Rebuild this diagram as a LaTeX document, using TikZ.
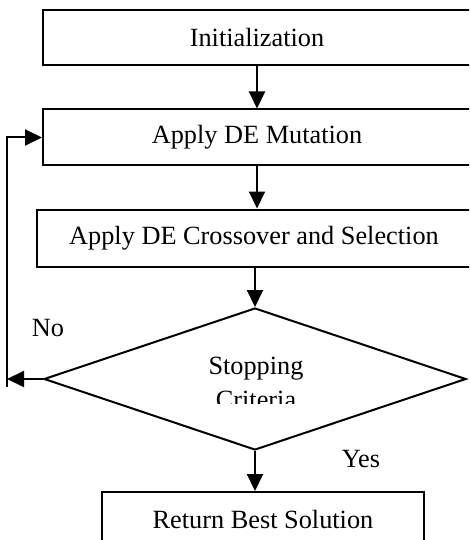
\documentclass[tikz,border=0pt]{standalone}
\usepackage{fontspec}
\setmainfont{Liberation Serif}
\usepackage{tikz}
\usetikzlibrary{arrows.meta,positioning,shapes.geometric}
\tikzset{
  stepbox/.style={draw=black,line width=2pt,minimum width=428pt,
    minimum height=55pt,inner sep=0pt,font=\fontsize{26.3}{34}\selectfont},
  flow/.style={line width=2pt,-{Triangle[length=17pt,width=16pt]}},
  tag/.style={font=\fontsize{26.3}{34}\selectfont,inner sep=0pt},
}
\begin{document}
\begin{tikzpicture}[x=1pt,y=-1pt]
\clip (0,0) rectangle (469,540);
\fill[white] (0,0) rectangle (469,540);

\node[stepbox] (init) at (257,38) {Initialization};
\node[stepbox,below=42pt of init,minimum height=56pt] (mut) {Apply DE Mutation};
\node[stepbox,below=42pt of mut,xshift=-3pt,minimum width=434pt,minimum height=57pt] (cross)
  {Apply DE Crossover and Selection};
\node[draw=black,line width=2pt,diamond,minimum width=422pt,minimum height=142pt,
      inner sep=0pt] (stop) at (255,379) {};
\node[stepbox,minimum width=322pt,minimum height=66pt] (ret) at (263,525)
  {\raisebox{12pt}{Return Best Solution}};

% text inside the decision is cut off
\begin{scope}
  \clip (0,0) rectangle (469,403);
  \node[tag,align=center] (stoptxt) at (256,383) {Stopping\\Criteria};
\end{scope}

\node[tag] (no) at (48,328) {No};
\node[tag] (yes) at (361,459) {Yes};

\coordinate (loopb) at (7,387);
\coordinate (loopt) at (7,134);

\draw[flow] (init) -- (mut);
\draw[flow] (mut) -- (mut |- cross.north);
\draw[flow] (cross.south -| stop.north) -- (stop.north);
\draw[flow] (stop.south) -- (stop.south |- ret.north);
\draw[flow] (stop.west) -- (stop.west -| loopb);
\draw[flow] (loopb) |- (mut.west);
\end{tikzpicture}
\end{document}
